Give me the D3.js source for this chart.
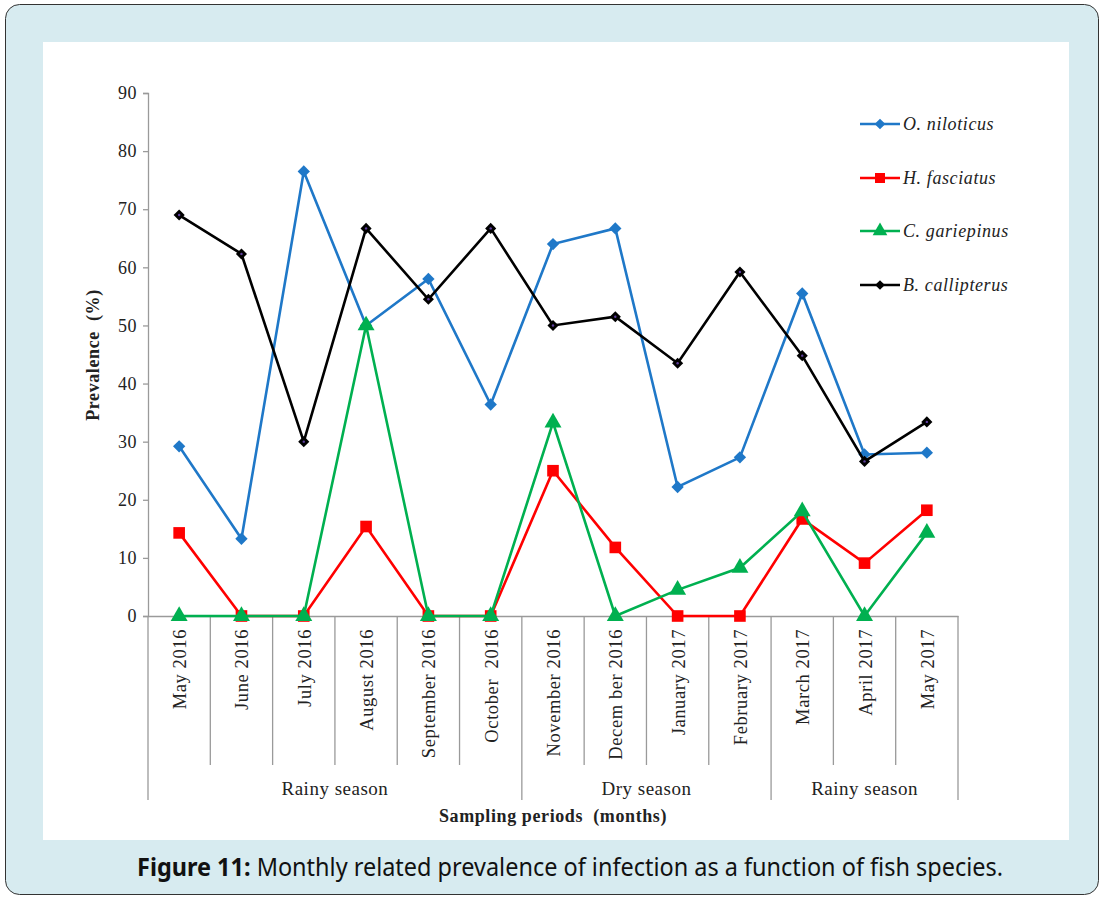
<!DOCTYPE html>
<html><head><meta charset="utf-8">
<script src="https://cdn.jsdelivr.net/npm/d3@7"></script>
<style>body{margin:0;background:#fff;}svg{display:block;}</style>
</head><body>
<script>
const months = ["May 2016","June 2016","July 2016","August 2016","September 2016","October  2016","November 2016","Decem ber 2016","January 2017","February 2017","March 2017","April 2017","May 2017"];
const oNiloticus = [29.2,13.3,76.5,50,58,36.4,64,66.7,22.2,27.3,55.5,27.8,28.1];
const hFasciatus = [14.3,0,0,15.4,0,0,25,11.8,0,0,16.7,9.1,18.2];
const cGariepinus = [0,0,0,50,0,0,33.3,0,4.5,8.3,18,0,14.3];
const bCallipterus = [69,62.3,30,66.7,54.5,66.7,50,51.5,43.5,59.2,44.8,26.6,33.4];
const seriesNames = ["O. niloticus","H. fasciatus","C. gariepinus","B. callipterus"];
const yTicks = [0,10,20,30,40,50,60,70,80,90];
const seasons = [{name:"Rainy season",from:0,to:6},{name:"Dry season",from:6,to:10},{name:"Rainy season",from:10,to:13}];

const W=1104,H=897;
const svg=d3.select("body").append("svg").attr("width",W).attr("height",H);
svg.append("rect").attr("x",5.5).attr("y",4.5).attr("width",1093).attr("height",890).attr("rx",14)
  .attr("fill","#d7ebf0").attr("stroke","#333").attr("stroke-width",1);
svg.append("rect").attr("x",43).attr("y",42).attr("width",1026).attr("height",798).attr("fill","#fff");

const serif="'Liberation Serif','Times New Roman',serif";
const ink="#222";
const x0=148,x1=958,yTop=93,yBot=616;
const x=d3.scaleBand().domain(d3.range(months.length)).range([x0,x1]);
const y=d3.scaleLinear().domain([0,90]).range([yBot,yTop]);
const cx=i=>x(i)+x.bandwidth()/2;
const grey="#9a9a9a";

const ya=svg.append("g").attr("transform",`translate(${x0},0)`)
  .call(d3.axisLeft(y).tickValues(yTicks).tickSize(5).tickPadding(6).tickFormat(d3.format("d")));
ya.select(".domain").attr("stroke",grey).attr("stroke-width",1.3);
ya.selectAll(".tick line").attr("stroke",grey).attr("stroke-width",1.3);
ya.selectAll(".tick text").attr("font-family",serif).attr("font-size",18).attr("fill",ink).attr("letter-spacing",0.5);

const xa=svg.append("g").attr("transform",`translate(0,${yBot})`)
  .call(d3.axisBottom(x).tickSize(0).tickFormat(""));
xa.select(".domain").attr("stroke",grey).attr("stroke-width",1.3);

const g=svg.append("g").attr("stroke",grey).attr("stroke-width",1.3);
const bounds=new Set(seasons.map(s=>s.from).concat([months.length]));
for(let i=0;i<=months.length;i++){
  const xx=i<months.length?x(i):x1;
  g.append("line").attr("x1",xx).attr("x2",xx).attr("y1",yBot).attr("y2",bounds.has(i)?800:765);
}
months.forEach((m,i)=>{
  svg.append("text").attr("transform",`translate(${cx(i)+7},629) rotate(-90)`)
    .attr("text-anchor","end").attr("font-family",serif).attr("font-size",18.5).attr("fill",ink)
    .attr("letter-spacing",0.6).attr("xml:space","preserve").text(m);
});
seasons.forEach(s=>{
  const a=x(s.from), b=s.to<months.length?x(s.to):x1;
  svg.append("text").attr("x",(a+b)/2).attr("y",795).attr("text-anchor","middle")
    .attr("font-family",serif).attr("font-size",19).attr("letter-spacing",0.5).attr("fill",ink).text(s.name);
});
svg.append("text").attr("x",553).attr("y",822).attr("text-anchor","middle").attr("font-family",serif)
  .attr("font-weight","bold").attr("font-size",18).attr("letter-spacing",0.6).attr("fill",ink).attr("xml:space","preserve").text("Sampling periods  (months)");
svg.append("text").attr("transform","translate(99,355) rotate(-90)").attr("text-anchor","middle").attr("font-family",serif)
  .attr("font-weight","bold").attr("font-size",18).attr("letter-spacing",0.6).attr("fill",ink).attr("xml:space","preserve").text("Prevalence  (%)");

const data=[oNiloticus,hFasciatus,cGariepinus,bCallipterus];
const colors=["#1f78c8","#ff0000","#00b050","#000000"];
const syms=[d3.symbolSquare,d3.symbolSquare,d3.symbolTriangle,d3.symbolSquare];
const rots=[45,0,0,45];
const sizes=[76,135,125,62];
const line=d3.line().x((d,i)=>cx(i)).y(d=>y(d));
data.forEach((vals,k)=>{
  svg.append("path").datum(vals).attr("d",line).attr("fill","none").attr("stroke",colors[k]).attr("stroke-width",2.6);
  svg.selectAll(null).data(vals).enter().append("path")
    .attr("transform",(d,i)=>`translate(${cx(i)},${y(d)}) rotate(${rots[k]})`)
    .attr("d",d3.symbol().type(syms[k]).size(sizes[k])).attr("fill",colors[k]);
  if(k===3){
    svg.selectAll(null).data(vals).enter().append("circle").attr("cx",(d,i)=>cx(i)).attr("cy",d=>y(d)).attr("r",1.2).attr("fill","#6040a0");
  }
});
const ly=[124,178,231,285];
seriesNames.forEach((n,k)=>{
  svg.append("line").attr("x1",860).attr("x2",900).attr("y1",ly[k]).attr("y2",ly[k]).attr("stroke",colors[k]).attr("stroke-width",2.6);
  svg.append("path").attr("transform",`translate(880,${ly[k]}) rotate(${rots[k]})`).attr("d",d3.symbol().type(syms[k]).size(sizes[k]*0.75)).attr("fill",colors[k]);
  svg.append("text").attr("x",903).attr("y",ly[k]+6).attr("font-family",serif).attr("font-style","italic")
    .attr("font-size",18).attr("letter-spacing",0.6).attr("fill",ink).text(n);
});
const cap=svg.append("text").attr("x",137).attr("y",876).attr("font-family","'Noto Sans',sans-serif").attr("font-size",25)
  .attr("fill","#111").attr("textLength",866).attr("lengthAdjust","spacingAndGlyphs");
cap.append("tspan").attr("font-weight","bold").text("Figure 11:");
cap.append("tspan").text(" Monthly related prevalence of infection as a function of fish species.");
</script>
</body></html>
